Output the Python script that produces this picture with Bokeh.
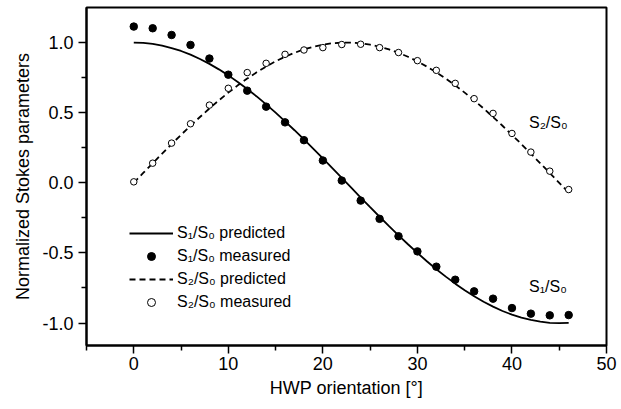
from bokeh.plotting import figure
from bokeh.models import Range1d, Legend, LegendItem, Label, ColumnDataSource, FixedTicker, CustomJSTickFormatter
from bokeh.embed import file_html
from bokeh.resources import INLINE

# measured points (HWP angle in degrees)
angle_meas = [0, 2, 4, 6, 8, 10, 12, 14, 16, 18, 20, 22, 24, 26, 28, 30, 32, 34, 36, 38, 40, 42, 44, 46]
s1_meas = [1.114, 1.102, 1.054, 0.983, 0.886, 0.771, 0.657, 0.543, 0.431, 0.304, 0.159, 0.016,
           -0.127, -0.257, -0.381, -0.489, -0.598, -0.691, -0.774, -0.826, -0.893, -0.933, -0.945, -0.943]
s2_meas = [0.007, 0.140, 0.283, 0.421, 0.554, 0.674, 0.786, 0.852, 0.916, 0.947, 0.964, 0.986,
           0.988, 0.964, 0.929, 0.871, 0.802, 0.709, 0.600, 0.495, 0.352, 0.219, 0.083, -0.048]

# predicted curves
angle_pred = list(range(0, 47))
s1_pred = [1.000, 0.998, 0.990, 0.978, 0.961, 0.940, 0.914, 0.883, 0.848, 0.809, 0.766, 0.719,
           0.669, 0.616, 0.559, 0.500, 0.438, 0.375, 0.309, 0.242, 0.174, 0.105, 0.035, -0.035,
           -0.105, -0.174, -0.242, -0.309, -0.375, -0.438, -0.500, -0.559, -0.616, -0.669, -0.719,
           -0.766, -0.809, -0.848, -0.883, -0.914, -0.940, -0.961, -0.978, -0.990, -0.998, -1.000, -0.998]
s2_pred = [0.000, 0.070, 0.139, 0.208, 0.276, 0.342, 0.407, 0.469, 0.530, 0.588, 0.643, 0.695,
           0.743, 0.788, 0.829, 0.866, 0.899, 0.927, 0.951, 0.970, 0.985, 0.995, 0.999, 0.999,
           0.995, 0.985, 0.970, 0.951, 0.927, 0.899, 0.866, 0.829, 0.788, 0.743, 0.695, 0.643,
           0.588, 0.530, 0.469, 0.407, 0.342, 0.276, 0.208, 0.139, 0.070, 0.000, -0.070]

x_ticks = [0, 10, 20, 30, 40, 50]
x_minor = [-5, 5, 15, 25, 35, 45]
y_ticks = [-1.0, -0.5, 0.0, 0.5, 1.0]
y_minor = [-0.75, -0.25, 0.25, 0.75]

legend_labels = ["S\u2081/S\u2080 predicted", "S\u2081/S\u2080 measured",
                 "S\u2082/S\u2080 predicted", "S\u2082/S\u2080 measured"]
curve_labels = ["S\u2082/S\u2080", "S\u2081/S\u2080"]
curve_label_pos = [(41.8, 0.43), (41.8, -0.74)]

FONT = "Liberation Sans"

p = figure(width=621, height=409, output_backend="svg", toolbar_location=None,
           x_range=Range1d(-5, 50), y_range=Range1d(-1.16, 1.25),
           min_border_left=86, min_border_right=15, min_border_top=7, min_border_bottom=64)
p.grid.visible = False
p.background_fill_color = "white"
p.border_fill_color = "white"
p.outline_line_color = "black"
p.outline_line_width = 2

pred_src = ColumnDataSource(dict(x=angle_pred, s1=s1_pred, s2=s2_pred))
meas_src = ColumnDataSource(dict(x=angle_meas, s1=s1_meas, s2=s2_meas))

r1 = p.line("x", "s1", source=pred_src, line_color="black", line_width=1.8)
r3 = p.line("x", "s2", source=pred_src, line_color="black", line_width=1.8, line_dash="6 4")
r2 = p.scatter("x", "s1", source=meas_src, size=7.5, fill_color="black", line_color="black")
r4 = p.scatter("x", "s2", source=meas_src, size=6.5, fill_color="white", line_color="black", line_width=1)

for ax in (p.xaxis[0], p.yaxis[0]):
    ax.axis_line_width = 2
    ax.axis_line_color = "black"
    ax.major_tick_out = 8
    ax.major_tick_in = 0
    ax.minor_tick_out = 5
    ax.minor_tick_in = 0
    ax.major_tick_line_width = 1.5
    ax.minor_tick_line_width = 1.5
    ax.major_label_text_font = FONT
    ax.major_label_text_font_size = "18px"
    ax.major_label_text_color = "black"
    ax.axis_label_text_font = FONT
    ax.axis_label_text_font_size = "18px"
    ax.axis_label_text_font_style = "normal"
    ax.axis_label_text_color = "black"

p.xaxis[0].ticker = FixedTicker(ticks=x_ticks, minor_ticks=x_minor)
p.yaxis[0].ticker = FixedTicker(ticks=y_ticks, minor_ticks=y_minor)
p.yaxis[0].formatter = CustomJSTickFormatter(code="return tick.toFixed(1);")
p.xaxis.axis_label = "HWP orientation [°]"
p.yaxis.axis_label = "Normalized Stokes parameters"
p.xaxis.major_label_standoff = 3
p.yaxis.major_label_standoff = 5
p.xaxis.axis_label_standoff = 5
p.yaxis.axis_label_standoff = 6

legend = Legend(items=[LegendItem(label=legend_labels[0], renderers=[r1]),
                       LegendItem(label=legend_labels[1], renderers=[r2]),
                       LegendItem(label=legend_labels[2], renderers=[r3]),
                       LegendItem(label=legend_labels[3], renderers=[r4])],
                location=(43, 33), border_line_color=None, background_fill_alpha=0,
                padding=0, margin=0, spacing=3, glyph_width=44, glyph_height=20,
                label_height=20, label_standoff=4,
                label_text_font=FONT, label_text_font_size="16px", label_text_color="black")
p.add_layout(legend)

for txt, (lx, ly) in zip(curve_labels, curve_label_pos):
    p.add_layout(Label(x=lx, y=ly, text=txt, text_font=FONT, text_font_size="16px",
                       text_color="black", text_baseline="middle", text_align="left"))

open("out.html", "w").write(file_html(p, INLINE))
